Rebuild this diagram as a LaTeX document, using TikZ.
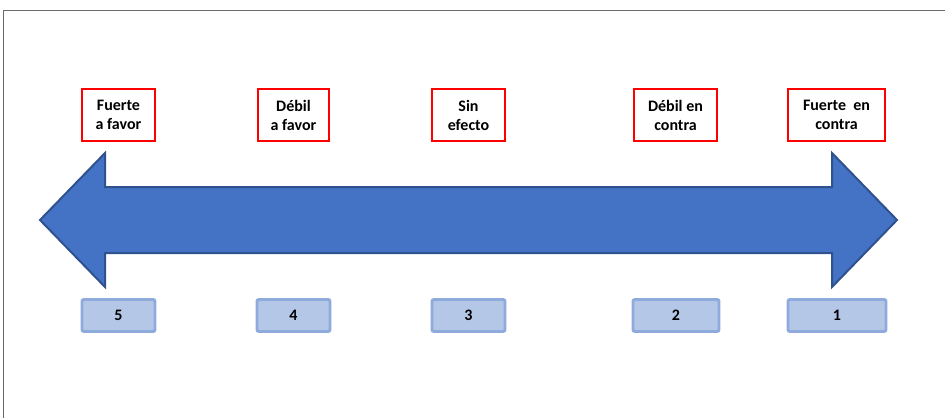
\documentclass[tikz,border=0pt]{standalone}
\usepackage{fontspec}
\setmainfont{Carlito}
\definecolor{arrowfill}{HTML}{4472C4}
\definecolor{arrowline}{HTML}{2F528F}
\definecolor{numfill}{HTML}{B4C7E7}
\definecolor{numline}{HTML}{8FAADC}
\definecolor{framecol}{HTML}{6A6A6A}
\definecolor{redbox}{HTML}{FF0000}
\begin{document}
\begin{tikzpicture}[x=0.75pt,y=-0.75pt,
  labelbox/.style={draw=redbox,line width=2.2pt,fill=white,align=center,
    font=\fontsize{12pt}{14.25pt}\selectfont\bfseries,inner sep=0pt,
    minimum height=52*0.75pt},
  numbox/.style={draw=numline,fill=numfill,line width=2.2pt,rounded corners=1.5pt,
    font=\fontsize{12pt}{14pt}\selectfont\bfseries,inner sep=0pt,
    minimum height=32*0.75pt}]
\useasboundingbox (0,0) rectangle (945,418);
% frame
\draw[framecol,line width=1pt] (3.5,418) -- (3.5,10.5) -- (945,10.5);
% double arrow
\draw[arrowline,fill=arrowfill,line width=1.5pt,line join=miter]
  (40,220) -- (105,153) -- (105,187) -- (832,187) -- (832,153) -- (897,220)
  -- (832,287) -- (832,253) -- (105,253) -- (105,287) -- cycle;
% labels
\node[labelbox,minimum width=73*0.75pt] (l5) at (118.5,115) {Fuerte\\a favor};
\node[labelbox,minimum width=71*0.75pt] (l4) at (293.5,115) {Débil\\a favor};
\node[labelbox,minimum width=73*0.75pt] (l3) at (468.5,115) {Sin\\efecto};
\node[labelbox,minimum width=83*0.75pt] (l2) at (675.5,115) {Débil en\\contra};
\node[labelbox,minimum width=97*0.75pt] (l1) at (836.5,115) {Fuerte\ \ en\\contra};
% numbers
\node[numbox,minimum width=73*0.75pt] (n5) at (118.5,315.5) {5};
\node[numbox,minimum width=73*0.75pt] (n4) at (293.5,315.5) {4};
\node[numbox,minimum width=73*0.75pt] (n3) at (468.5,315.5) {3};
\node[numbox,minimum width=86*0.75pt] (n2) at (676,315.5) {2};
\node[numbox,minimum width=98*0.75pt] (n1) at (837,315.5) {1};
\end{tikzpicture}
\end{document}
